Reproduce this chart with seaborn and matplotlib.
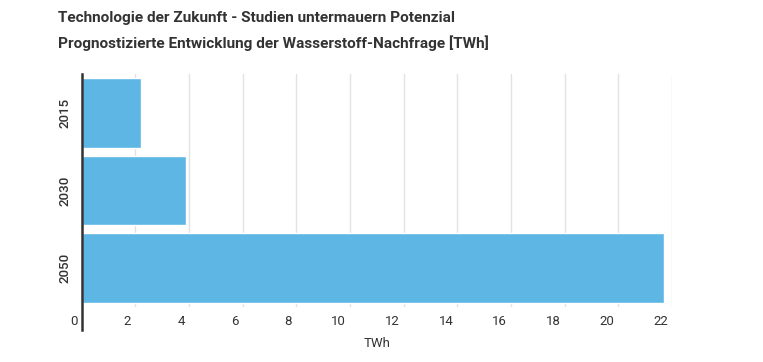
import matplotlib
matplotlib.use("Agg")
import matplotlib.pyplot as plt
import matplotlib.transforms as mtransforms
import pandas as pd
import seaborn as sns

# Data
years = ["2015", "2030", "2050"]
demand_twh = [2.2, 3.9, 21.7]

df = pd.DataFrame({"year": years, "twh": demand_twh})

sns.set_style("white")
plt.rcParams["font.family"] = ["Roboto", "DejaVu Sans"]

fig = plt.figure(figsize=(7.63, 3.62), dpi=100)
ax = fig.add_axes([81.5 / 763, 1 - 307 / 362, (672 - 81.5) / 763, (307 - 74) / 362])

sns.barplot(data=df, x="twh", y="year", orient="h", color="#5db6e4",
            saturation=1, width=0.9, ax=ax)

ax.set_xlim(0, 22)
ax.set_xticks(range(0, 23, 2))
ax.grid(axis="x", color="#e2e2e2", linewidth=1)
ax.set_axisbelow(True)

for side in ["top", "right", "bottom"]:
    ax.spines[side].set_visible(False)
ax.spines["left"].set_color("#333333")
ax.spines["left"].set_linewidth(1.8)
# let the axis line run down through the tick area, as in the reference
ax.spines["left"].set_bounds(-0.5, 2.5 + 23 / 77.7)
ax.spines["left"].set_clip_on(False)

ax.tick_params(axis="x", length=16, width=1, color="#e2e2e2", pad=-10,
               labelsize=9.5, labelcolor="#333333")
ax.tick_params(axis="y", length=0, pad=7, labelsize=9.5, labelcolor="#333333")

offset = mtransforms.ScaledTranslation(-4 / 100, 0, fig.dpi_scale_trans)
for lbl in ax.get_xticklabels():
    lbl.set_ha("right")
    lbl.set_transform(lbl.get_transform() + offset)
for lbl in ax.get_yticklabels():
    lbl.set_rotation(90)
    lbl.set_va("center")
    lbl.set_fontweight("medium")

ax.set_ylabel("")
ax.set_xlabel("TWh", fontsize=9.5, color="#333333", labelpad=6)

fig.text(58 / 763, 1 - 18 / 362, "Technologie der Zukunft - Studien untermauern Potenzial",
         fontsize=11.1, fontweight="bold", color="#333333", va="center")
fig.text(58 / 763, 1 - 43 / 362, "Prognostizierte Entwicklung der Wasserstoff-Nachfrage [TWh]",
         fontsize=11.1, fontweight="bold", color="#333333", va="center")

fig.savefig("out.png", dpi=100)
